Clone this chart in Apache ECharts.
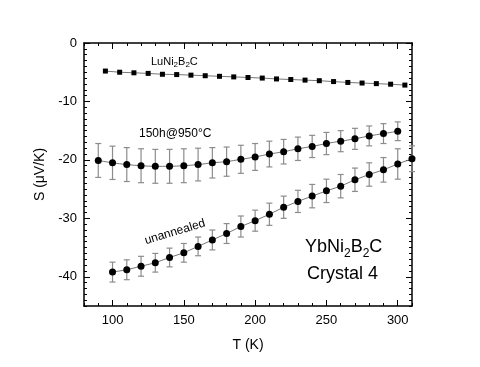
<!DOCTYPE html>
<html>
<head>
<meta charset="utf-8">
<script src="https://cdn.jsdelivr.net/npm/echarts@6/dist/echarts.min.js"></script>
<style>
  html, body { margin: 0; padding: 0; background: #fff; }
  #chart { width: 480px; height: 367px; }
</style>
</head>
<body>
<div id="chart"></div>
<script>
// LuNi2B2C reference curve
const luT = [95, 105, 115, 125, 135, 145, 155, 165, 175, 185, 195, 205, 215, 225, 235, 245, 255, 265, 275, 285, 295, 305]
const luS = [-4.8, -5.0, -5.1, -5.2, -5.35, -5.4, -5.5, -5.6, -5.7, -5.8, -5.9, -6.0, -6.15, -6.25, -6.35, -6.45, -6.6, -6.75, -6.85, -6.95, -7.05, -7.2]

// YbNi2B2C, 150h @ 950C anneal
const annT = [90, 100, 110, 120, 130, 140, 150, 160, 170, 180, 190, 200, 210, 220, 230, 240, 250, 260, 270, 280, 290, 300]
const annS = [-20.1, -20.5, -20.8, -21.0, -21.1, -21.1, -21.0, -20.8, -20.5, -20.3, -19.9, -19.5, -19.0, -18.6, -18.1, -17.7, -17.2, -16.8, -16.4, -15.9, -15.5, -15.1]
const annErr = [2.9, 2.85, 2.9, 2.9, 2.9, 2.9, 2.9, 2.8, 2.6, 2.5, 2.4, 2.3, 2.2, 2.1, 2.0, 1.9, 1.9, 1.8, 1.8, 1.7, 1.7, 1.6]

// YbNi2B2C, unannealed
const unT = [100, 110, 120, 130, 140, 150, 160, 170, 180, 190, 200, 210, 220, 230, 240, 250, 260, 270, 280, 290, 300, 310]
const unS = [-39.2, -38.8, -38.2, -37.6, -36.7, -35.9, -34.8, -33.7, -32.6, -31.4, -30.4, -29.3, -28.1, -27.1, -26.2, -25.3, -24.5, -23.4, -22.5, -21.7, -20.7, -19.8]
const unErr = [1.7, 1.7, 1.7, 1.6, 1.6, 1.6, 1.6, 1.7, 1.7, 1.8, 1.8, 1.9, 1.9, 1.9, 2.0, 2.0, 2.0, 2.0, 2.0, 2.1, 2.6, 2.2]

const xMajor = [100, 150, 200, 250, 300]
const xMinor = [80, 90, 110, 120, 130, 140, 160, 170, 180, 190, 210, 220, 230, 240, 260, 270, 280, 290, 310]
const yMajor = [-40, -30, -20, -10, 0]
const yMinor = []
for (let v = -45; v <= 0; v++) if (v % 10 !== 0) yMinor.push(v)

const FONT = 'Liberation Sans'
const chart = echarts.init(document.getElementById('chart'))

function pairs(xs, ys) {
  return xs.map((x, i) => [x, ys[i]])
}
function errData(xs, ys, es) {
  return xs.map((x, i) => [x, ys[i], es[i]])
}

function renderErr(params, api) {
  const x = api.value(0)
  const y = api.value(1)
  const e = api.value(2)
  const top = api.coord([x, y + e])
  const bot = api.coord([x, y - e])
  const w = 3
  const style = { stroke: '#8c8c8c', lineWidth: 1.2 }
  return {
    type: 'group',
    children: [
      { type: 'line', shape: { x1: top[0], y1: top[1], x2: bot[0], y2: bot[1] }, style },
      { type: 'line', shape: { x1: top[0] - w, y1: top[1], x2: top[0] + w, y2: top[1] }, style },
      { type: 'line', shape: { x1: bot[0] - w, y1: bot[1], x2: bot[0] + w, y2: bot[1] }, style }
    ]
  }
}

function xAx(position, values, len, showLine, showLabel) {
  return {
    type: 'value', position, min: 80, max: 310,
    axisLine: { show: showLine, onZero: false, lineStyle: { color: '#000', width: 1.5 } },
    axisTick: { show: true, inside: true, length: len, customValues: values, lineStyle: { color: '#000', width: 1 } },
    axisLabel: { show: showLabel, customValues: values, color: '#000', fontSize: 13, fontFamily: FONT, margin: 8 },
    splitLine: { show: false }
  }
}
function yAx(position, values, len, showLine, showLabel) {
  return {
    type: 'value', position, min: -45, max: 0,
    axisLine: { show: showLine, onZero: false, lineStyle: { color: '#000', width: 1.5 } },
    axisTick: { show: true, inside: true, length: len, customValues: values, lineStyle: { color: '#000', width: 1 } },
    axisLabel: { show: showLabel, customValues: values, color: '#000', fontSize: 13, fontFamily: FONT, margin: 7 },
    splitLine: { show: false }
  }
}

const xBottom = xAx('bottom', xMajor, 6, true, true)
xBottom.name = 'T (K)'
xBottom.nameLocation = 'middle'
xBottom.nameGap = 32
xBottom.nameTextStyle = { color: '#000', fontSize: 14, fontFamily: FONT }

const yLeft = yAx('left', yMajor, 6, true, true)
yLeft.name = 'S (\u03bcV/K)'
yLeft.nameLocation = 'middle'
yLeft.nameGap = 31
yLeft.nameTextStyle = { color: '#000', fontSize: 14, fontFamily: FONT }

const lineStyle = { color: '#777', width: 1 }

chart.setOption({
  backgroundColor: '#fff',
  animation: false,
  grid: { left: 84, right: 68, top: 43, bottom: 61 },
  xAxis: [
    xBottom,
    xAx('bottom', xMinor, 3, false, false),
    xAx('top', xMajor, 6, true, false),
    xAx('top', xMinor, 3, false, false)
  ],
  yAxis: [
    yLeft,
    yAx('left', yMinor, 3, false, false),
    yAx('right', yMajor, 6, true, false),
    yAx('right', yMinor, 3, false, false)
  ],
  series: [
    {
      type: 'custom', renderItem: renderErr, data: errData(annT, annS, annErr),
      encode: { x: 0, y: 1 }, z: 1
    },
    {
      type: 'custom', renderItem: renderErr, data: errData(unT, unS, unErr),
      encode: { x: 0, y: 1 }, z: 1
    },
    {
      type: 'line', data: pairs(luT, luS), symbol: 'rect', symbolSize: 5,
      itemStyle: { color: '#000' }, lineStyle, z: 3
    },
    {
      type: 'line', data: pairs(annT, annS), symbol: 'circle', symbolSize: 7, smooth: 0.3,
      itemStyle: { color: '#000' }, lineStyle, z: 3
    },
    {
      type: 'line', data: pairs(unT, unS), symbol: 'circle', symbolSize: 7,
      itemStyle: { color: '#000' }, lineStyle, z: 3
    }
  ],
  graphic: [
    {
      type: 'text', left: 151, top: 54,
      style: {
        text: 'LuNi{s|2}B{s|2}C', fontFamily: FONT, fontSize: 11, fill: '#000',
        rich: {
          s: { fontSize: 8, lineHeight: 8, verticalAlign: 'bottom', fontFamily: FONT, fill: '#000' }
        },
        lineHeight: 15, verticalAlign: 'top'
      }
    },
    {
      type: 'text', left: 139, top: 128,
      style: { text: '150h@950\u00b0C', fontFamily: FONT, fontSize: 12, fill: '#000' }
    },
    {
      type: 'text', x: 175, y: 232, rotation: 0.29,
      style: { text: 'unannealed', fontFamily: FONT, fontSize: 12, fill: '#000', align: 'center', verticalAlign: 'middle' }
    },
    {
      type: 'text', left: 305, top: 234,
      style: {
        text: 'YbNi{s|2}B{s|2}C', fontFamily: FONT, fontSize: 18, fill: '#000',
        rich: {
          s: { fontSize: 12, lineHeight: 12, verticalAlign: 'bottom', fontFamily: FONT, fill: '#000' }
        },
        lineHeight: 26, verticalAlign: 'top'
      }
    },
    {
      type: 'text', left: 307, top: 265,
      style: { text: 'Crystal 4', fontFamily: FONT, fontSize: 18, fill: '#000' }
    }
  ]
})
</script>
</body>
</html>
